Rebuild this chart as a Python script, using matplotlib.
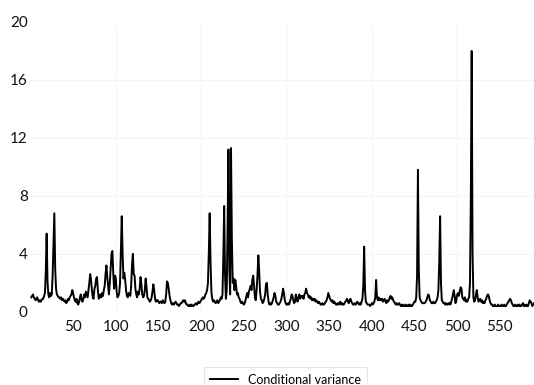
import matplotlib.pyplot as plt
import numpy as np

variance = [
    1.0, 1.1, 1.2, 1.0, 0.9, 0.8, 0.9, 1.0, 0.8, 0.7,
    0.8, 0.7, 0.8, 0.9, 0.9, 1.1, 1.3, 2.8, 5.4, 2.1,
    1.2, 1.0, 1.3, 1.1, 1.2, 2.5, 4.6, 6.8, 3.0, 1.6,
    1.2, 1.1, 1.0, 1.0, 0.9, 1.0, 0.8, 0.9, 0.8, 0.7,
    0.8, 0.6, 0.7, 0.9, 0.8, 1.0, 1.1, 1.2, 1.5, 1.3,
    1.0, 0.8, 0.7, 0.9, 0.6, 0.5, 0.7, 1.0, 1.2, 0.8,
    0.7, 0.9, 1.2, 1.0, 1.4, 1.2, 1.0, 1.5, 2.0, 2.6,
    2.2, 1.5, 1.0, 0.9, 1.6, 1.8, 2.3, 2.4, 1.5, 0.9,
    1.0, 1.2, 1.0, 1.3, 1.1, 1.5, 1.8, 2.6, 3.2, 2.4,
    1.8, 1.2, 2.0, 3.0, 4.0, 4.2, 2.7, 1.6, 2.5, 2.3,
    1.4, 1.0, 1.1, 1.3, 2.0, 4.2, 6.6, 4.0, 2.3, 2.7,
    2.2, 1.5, 1.1, 1.0, 1.3, 1.2, 1.1, 1.8, 3.2, 4.0,
    2.6, 2.5, 1.6, 1.2, 1.0, 1.4, 1.2, 1.6, 2.4, 1.9,
    1.2, 1.0, 1.1, 1.5, 2.3, 1.7, 1.0, 0.9, 0.8, 0.7,
    0.8, 1.0, 1.4, 1.9, 1.5, 0.9, 0.7, 0.8, 0.8, 0.7,
    0.6, 0.7, 0.7, 0.6, 0.8, 0.7, 0.6, 0.7, 1.2, 2.1,
    2.0, 1.6, 1.1, 0.8, 0.6, 0.5, 0.6, 0.5, 0.6, 0.7,
    0.6, 0.5, 0.5, 0.4, 0.5, 0.6, 0.6, 0.7, 0.8, 0.7,
    0.8, 0.6, 0.5, 0.5, 0.4, 0.4, 0.5, 0.4, 0.5, 0.4,
    0.4, 0.5, 0.5, 0.6, 0.5, 0.6, 0.7, 0.6, 0.7, 0.8,
    0.9, 1.0, 0.9, 1.0, 1.2, 1.3, 1.5, 2.0, 4.1, 6.8,
    3.5, 1.4, 0.9, 0.7, 0.8, 0.7, 0.6, 0.7, 0.8, 0.6,
    0.7, 0.8, 1.0, 0.9, 1.2, 3.8, 7.3, 2.5, 0.9, 1.5,
    6.0, 11.2, 3.0, 1.2, 11.3, 5.0, 2.0, 2.3, 1.5, 2.2,
    1.8, 1.2, 1.3, 1.0, 0.9, 0.7, 0.6, 0.7, 0.6, 0.5,
    0.6, 0.8, 1.1, 1.3, 1.0, 1.4, 1.6, 1.8, 1.5, 2.2,
    2.5, 1.8, 1.0, 0.8, 1.5, 2.5, 3.9, 2.8, 1.4, 0.9,
    0.8, 0.6, 0.7, 0.9, 1.2, 1.9, 2.0, 1.2, 0.7, 0.5,
    0.6, 0.5, 0.6, 0.8, 1.0, 1.3, 1.1, 0.7, 0.6, 0.5,
    0.5, 0.6, 0.7, 0.9, 1.2, 1.6, 1.3, 0.8, 0.6, 0.5,
    0.5, 0.6, 0.5, 0.7, 0.9, 1.2, 1.1, 0.8, 0.6, 0.7,
    1.2, 0.9, 0.7, 1.0, 1.2, 0.9, 1.1, 1.0, 1.1, 0.9,
    1.2, 1.3, 1.6, 1.3, 1.2, 1.0, 1.1, 0.9, 1.0, 0.8,
    0.9, 0.8, 0.9, 0.7, 0.8, 0.7, 0.6, 0.7, 0.6, 0.5,
    0.5, 0.6, 0.5, 0.5, 0.6, 0.7, 0.8, 1.0, 1.3, 1.1,
    0.9, 0.8, 0.7, 0.8, 0.6, 0.7, 0.6, 0.5, 0.5, 0.6,
    0.5, 0.6, 0.7, 0.5, 0.6, 0.5, 0.5, 0.6, 0.7, 0.8,
    0.9, 0.7, 0.6, 0.8, 0.9, 0.7, 0.6, 0.5, 0.5, 0.6,
    0.5, 0.6, 0.7, 0.6, 0.5, 0.6, 0.5, 0.7, 0.9, 1.8,
    4.5, 1.5, 0.7, 0.6, 0.5, 0.5, 0.5, 0.4, 0.5, 0.6,
    0.5, 0.6, 0.7, 1.0, 2.2, 1.0, 0.8, 1.0, 0.8, 0.9,
    0.8, 0.9, 0.7, 0.8, 0.9, 0.7, 0.6, 0.8, 0.7, 0.8,
    1.0, 1.1, 0.9, 1.0, 0.8, 0.7, 0.6, 0.5, 0.6, 0.5,
    0.5, 0.6, 0.5, 0.4, 0.5, 0.4, 0.5, 0.4, 0.4, 0.5,
    0.4, 0.4, 0.5, 0.4, 0.5, 0.4, 0.4, 0.5, 0.6, 0.7,
    0.7, 1.0, 2.5, 9.8, 3.0, 1.0, 0.8, 0.7, 0.6, 0.6,
    0.6, 0.6, 0.7, 0.8, 1.0, 1.2, 1.1, 0.8, 0.7, 0.6,
    0.6, 0.7, 0.6, 0.6, 0.7, 0.8, 1.0, 1.5, 3.5, 6.6,
    2.0, 0.8, 0.7, 0.6, 0.6, 0.5, 0.6, 0.5, 0.5, 0.6,
    0.6, 0.5, 0.7, 0.9, 1.2, 1.5, 1.1, 0.6, 0.8, 1.2,
    1.3, 1.1, 1.4, 1.7, 1.6, 1.0, 0.9, 0.8, 1.0, 0.7,
    0.8, 0.7, 0.9, 1.0, 2.0, 8.0, 18.0, 4.0, 1.0, 0.7,
    0.8, 1.2, 1.5, 1.0, 0.7, 0.8, 0.9, 0.7, 0.8, 0.6,
    0.7, 0.6, 0.8, 0.9, 1.1, 1.2, 1.1, 0.8, 0.6, 0.5,
    0.5, 0.4, 0.4, 0.5, 0.4, 0.4, 0.4, 0.5, 0.4, 0.4,
    0.4, 0.5, 0.4, 0.4, 0.5, 0.4, 0.4, 0.5, 0.6, 0.7,
    0.8, 0.9, 0.8, 0.6, 0.5, 0.4, 0.4, 0.5, 0.4, 0.4,
    0.5, 0.4, 0.5, 0.4, 0.4, 0.5, 0.6, 0.4, 0.5, 0.4,
    0.5, 0.4, 0.4, 0.6, 0.8, 0.7, 0.6, 0.4, 0.5, 0.6,
]
x_ticks = [50, 100, 150, 200, 250, 300, 350, 400, 450, 500, 550]
y_ticks = [0, 4, 8, 12, 16, 20]
x_grid = [100, 200, 300, 400, 500]

plt.rcParams['font.family'] = ['Lato', 'DejaVu Sans']

obs = np.arange(1, len(variance) + 1)

fig = plt.figure(figsize=(5.34, 3.85), dpi=100)
ax = fig.add_axes([0.057, 0.19, 0.943, 0.753])

# very faint gridlines, as in the original spreadsheet chart
for yv in y_ticks[1:-1]:
    ax.axhline(yv, color='#f3f3f3', lw=0.8, zorder=0)
for xv in x_grid:
    ax.axvline(xv, ymax=0.99, color='#f3f3f3', lw=0.8, zorder=0)

ax.plot(obs, variance, color='black', lw=1.4, label='Conditional variance')

ax.set_xlim(0, 590)
ax.set_ylim(0, 20)
ax.set_xticks(x_ticks)
ax.set_yticks(y_ticks)
ax.tick_params(axis='both', length=0, labelsize=11, colors='#111111')
ax.tick_params(axis='x', pad=6)
ax.tick_params(axis='y', pad=2)
for side in ['top', 'right', 'bottom', 'left']:
    ax.spines[side].set_visible(False)

leg = fig.legend(loc='upper center', bbox_to_anchor=(0.535, 0.062),
                 fontsize=9, frameon=True, fancybox=False,
                 handlelength=2.2, borderpad=0.5)
leg.get_frame().set_edgecolor('#e0e0e0')
leg.get_frame().set_linewidth(0.8)

fig.savefig('out.png', dpi=100)
